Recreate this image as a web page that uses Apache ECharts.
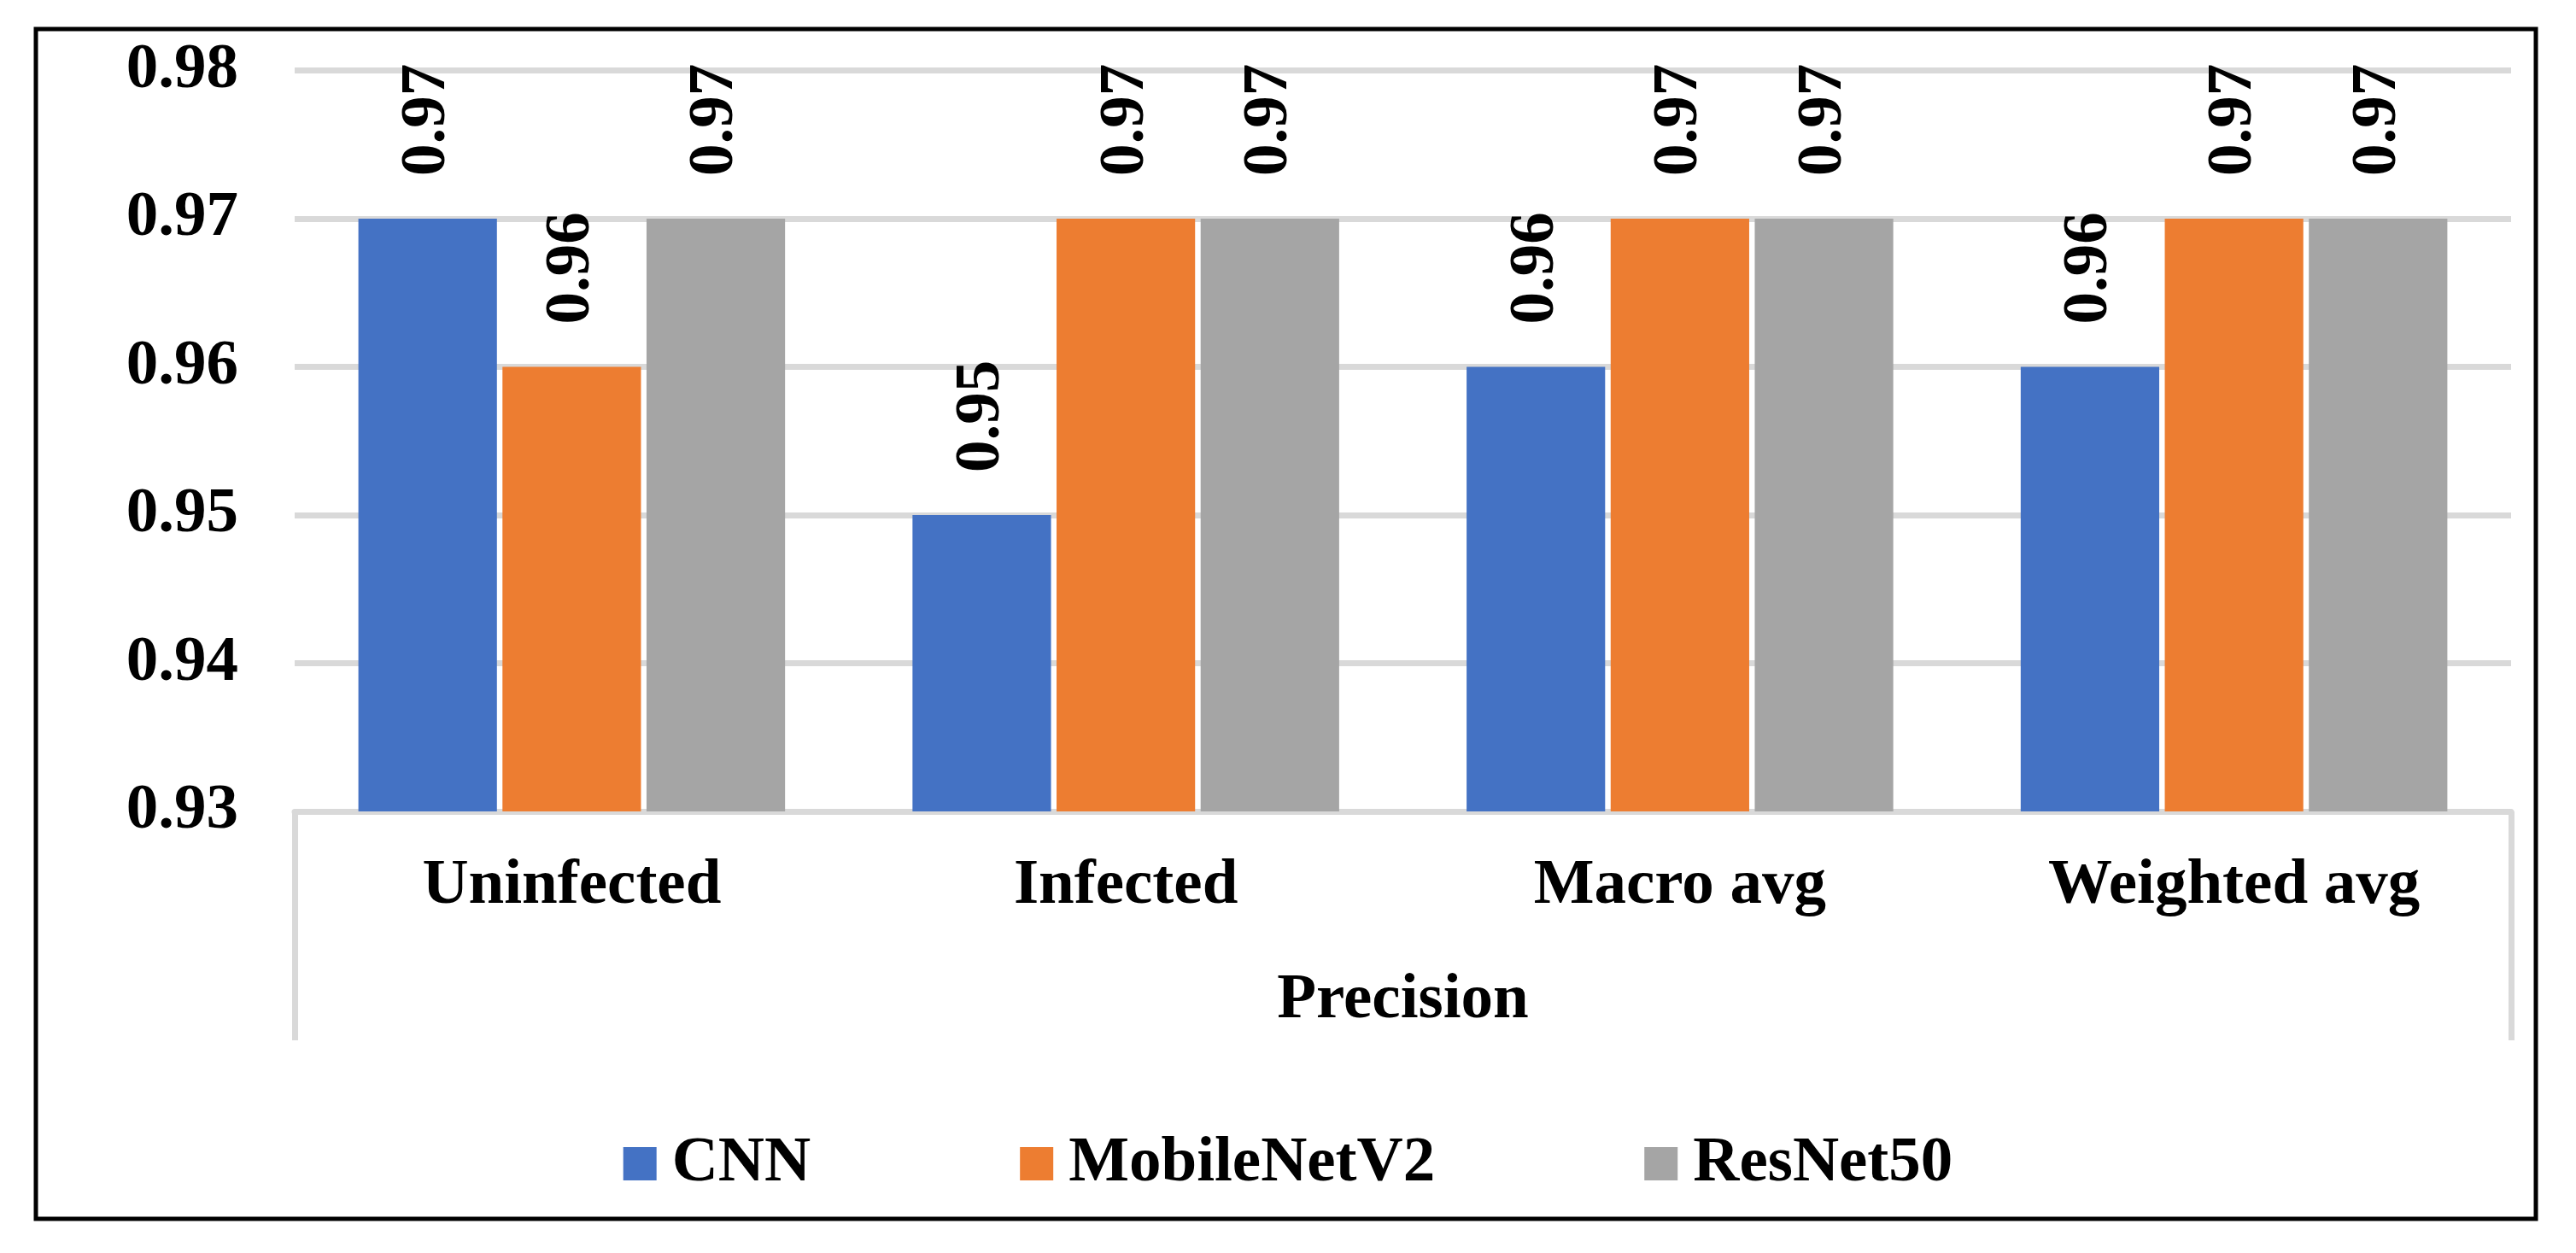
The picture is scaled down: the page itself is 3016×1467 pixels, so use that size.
<!DOCTYPE html>
<html>
<head>
<meta charset="utf-8">
<script src="https://cdn.jsdelivr.net/npm/echarts@6/dist/echarts.min.js"></script>
<style>
html,body{margin:0;padding:0;background:#fff;}
#chart{width:3016px;height:1467px;}
</style>
</head>
<body>
<div id="chart"></div>
<script>
var categories = ['Uninfected', 'Infected', 'Macro avg', 'Weighted avg'];
var groupLabel = ['Precision'];
var seriesNames = ['CNN', 'MobileNetV2', 'ResNet50'];
var cnnValues = [0.97, 0.95, 0.96, 0.96];
var mobileNetValues = [0.96, 0.97, 0.97, 0.97];
var resNetValues = [0.97, 0.97, 0.97, 0.97];
var yMin = 0.93, yMax = 0.98, yStep = 0.01;

var FONT = 'Liberation Serif';
var FS = 75;
var GRID = '#d9d9d9';
var colors = ['#4472C4', '#ED7D31', '#A5A5A5'];

var chart = echarts.init(document.getElementById('chart'));

function barSeries(name, values, color) {
  return {
    name: name,
    type: 'bar',
    data: values,
    barGap: '4%',
    barCategoryGap: '23%',
    itemStyle: { color: color },
    label: {
      show: true,
      position: 'top',
      rotate: 90,
      align: 'left',
      verticalAlign: 'middle',
      distance: 50,
      fontFamily: FONT,
      fontWeight: 'bold',
      fontSize: FS,
      color: '#000',
      formatter: function (p) { return p.value.toFixed(2); }
    }
  };
}

chart.setOption({
  backgroundColor: '#fff',
  animation: false,
  grid: { left: 345, right: 76, top: 82.5, bottom: 517, containLabel: false },
  legend: {
    bottom: 'auto',
    top: 1320,
    left: 'center',
    itemWidth: 39,
    itemHeight: 39,
    itemGap: 245,
    icon: 'rect',
    data: seriesNames,
    textStyle: { fontFamily: FONT, fontWeight: 'bold', fontSize: FS, color: '#000', padding: [0, 0, 0, 13] }
  },
  xAxis: [
    {
      type: 'category',
      data: categories,
      position: 'bottom',
      axisLine: { show: true, lineStyle: { color: GRID, width: 7 } },
      axisTick: { show: false },
      axisLabel: { fontFamily: FONT, fontWeight: 'bold', fontSize: FS, color: '#000', margin: 50 }
    },
    {
      type: 'category',
      data: groupLabel,
      position: 'bottom',
      gridIndex: 0,
      axisLine: { show: false },
      axisTick: { show: true, alignWithLabel: false, length: 268, lineStyle: { color: GRID, width: 7 } },
      axisLabel: { fontFamily: FONT, fontWeight: 'bold', fontSize: FS, color: '#000', margin: 184 }
    }
  ],
  yAxis: {
    type: 'value',
    min: yMin,
    max: yMax,
    interval: yStep,
    axisLine: { show: false },
    axisTick: { show: false },
    splitLine: { show: true, lineStyle: { color: GRID, width: 7 } },
    axisLabel: {
      fontFamily: FONT, fontWeight: 'bold', fontSize: FS, color: '#000', margin: 66,
      formatter: function (v) { return v.toFixed(2); }
    }
  },
  graphic: [
    {
      type: 'rect',
      shape: { x: 42, y: 34, width: 2927, height: 1393 },
      style: { fill: 'none', stroke: '#000', lineWidth: 5 },
      silent: true
    }
  ],
  series: [
    barSeries(seriesNames[0], cnnValues, colors[0]),
    barSeries(seriesNames[1], mobileNetValues, colors[1]),
    barSeries(seriesNames[2], resNetValues, colors[2])
  ]
});
</script>
</body>
</html>
